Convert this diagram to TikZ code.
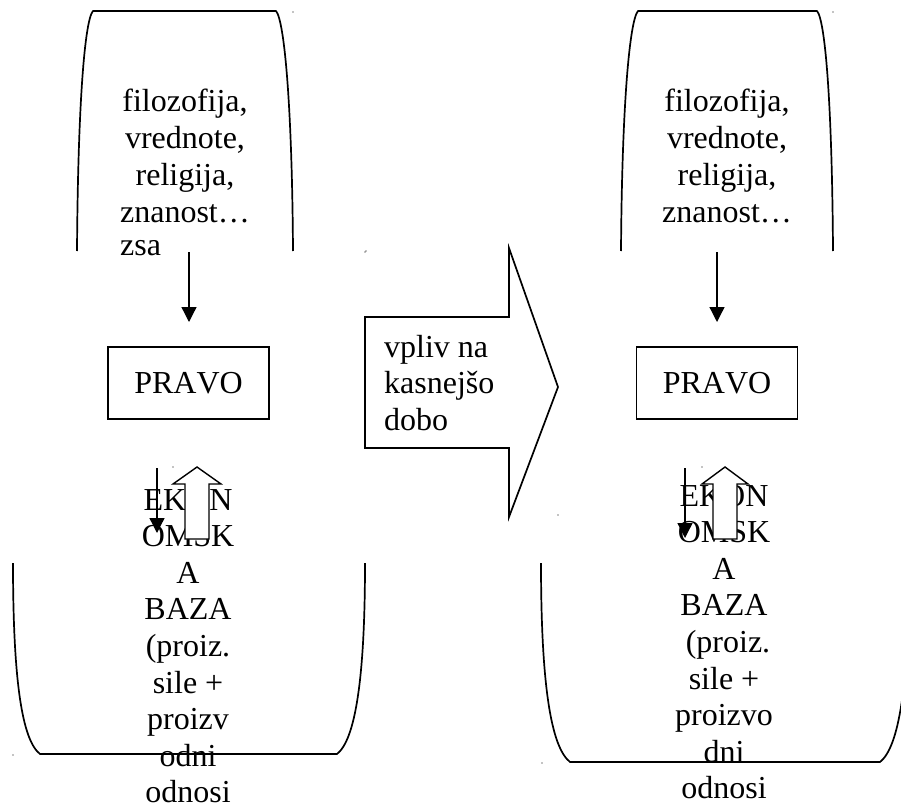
\documentclass[tikz,border=0pt]{standalone}
\usepackage{fontspec}
\setmainfont{Liberation Serif}[Kerning=Off,Ligatures=NoCommon]
\usetikzlibrary{arrows.meta}
\begin{document}
\begin{tikzpicture}[x=1pt,y=-1pt,
  shapeline/.style={line width=1.7pt, line join=round},
  boxstyle/.style={draw, line width=1.5pt, minimum width=161pt, minimum height=72pt, inner sep=0pt, font=\fontsize{32}{37}\selectfont},
  txt/.style={font=\fontsize{32}{37}\selectfont, align=center, inner sep=0pt},
  txtb/.style={font=\fontsize{32}{36.6}\selectfont, align=center, inner sep=0pt},
  conn/.style={line width=1.3pt, -{Triangle[length=15pt,width=15pt]}},
  hollow/.style={draw, fill=white, line width=1.4pt, line join=miter},
  speck/.style={fill=black, inner sep=0pt, minimum size=1.2pt, circle}]
\useasboundingbox (0,0) rectangle (901,805);
\begin{scope}
\clip (0,0) rectangle (901,805);
% top frames
\draw[shapeline] (77,251) .. controls (78,100) and (85,20) .. (93,11) -- (276,11) .. controls (284,20) and (292,100) .. (293,251);
\draw[shapeline] (621,251) .. controls (622,100) and (630,20) .. (638,11) -- (817,11) .. controls (825,20) and (832,100) .. (833,251);
% bottom frames
\draw[shapeline] (13,563) .. controls (13,680) and (22,740) .. (40,754) -- (337,754) .. controls (355,740) and (365,680) .. (365,563);
\draw[shapeline] (541,563) .. controls (541,685) and (551,747) .. (570,762) -- (880,762) .. controls (899,747) and (909,685) .. (909,563);
\end{scope}
% big arrow
\draw[shapeline, line join=miter] (365,317) -- (509,317) -- (509,248) -- (558,387) -- (509,517) -- (509,448) -- (365,448) -- cycle;
\node[font=\fontsize{32}{36.5}\selectfont, align=left, inner sep=0pt, anchor=west] (vpliv) at (384,383) {vpliv na\\kasnejšo\\dobo};
% top texts
\node[txt] (topL) at (185,156) {filozofija,\\vrednote,\\religija,\\znanost…};
\node[txt, anchor=west] (zsa) at (120,248) {zsa};
\node[txt] (topR) at (727,156) {filozofija,\\vrednote,\\religija,\\znanost…};
% PRAVO boxes
\node[boxstyle] (pravoL) at (188.5,383) {PRAVO};
\node[boxstyle] (pravoR) at (717,383) {PRAVO};
% arrows to PRAVO
\coordinate (aLs) at (189,252);
\coordinate (aLe) at (189,322);
\coordinate (aRs) at (717,252);
\coordinate (aRe) at (717,322);
\draw[conn] (aLs) -- (aLe);
\draw[conn] (aRs) -- (aRe);
% down arrows in base
\coordinate (dLs) at (157,468);
\coordinate (dLe) at (157,533);
\coordinate (dRs) at (685,468);
\coordinate (dRe) at (685,538);
\draw[conn] (dLs) -- (dLe);
\draw[conn] (dRs) -- (dRe);
% base texts
\node[txtb] (baseL) at (188,646) {EKON\\OMSK\\A\\BAZA\\(proiz.\\sile +\\proizv\\odni\\odnosi};
\node[txtb] (baseR) at (724,642) {EKON\\OMSK\\A\\BAZA\\\hspace*{0.25em}(proiz.\\sile +\\proizvo\\dni\\odnosi};
% hollow up arrows
\draw[hollow] (197,467) -- (221,484) -- (209,484) -- (209,539) -- (185,539) -- (185,484) -- (173,484) -- cycle;
\draw[hollow] (725,467) -- (748,484) -- (737,484) -- (737,539) -- (713,539) -- (713,484) -- (702,484) -- cycle;
% specks
\foreach \p in {(293,12),(366,251),(833,12),(365,252),(558,515),(173,467),(702,467),(13,755),(542,763)}
  \node[speck] at \p {};
\end{tikzpicture}
\end{document}
